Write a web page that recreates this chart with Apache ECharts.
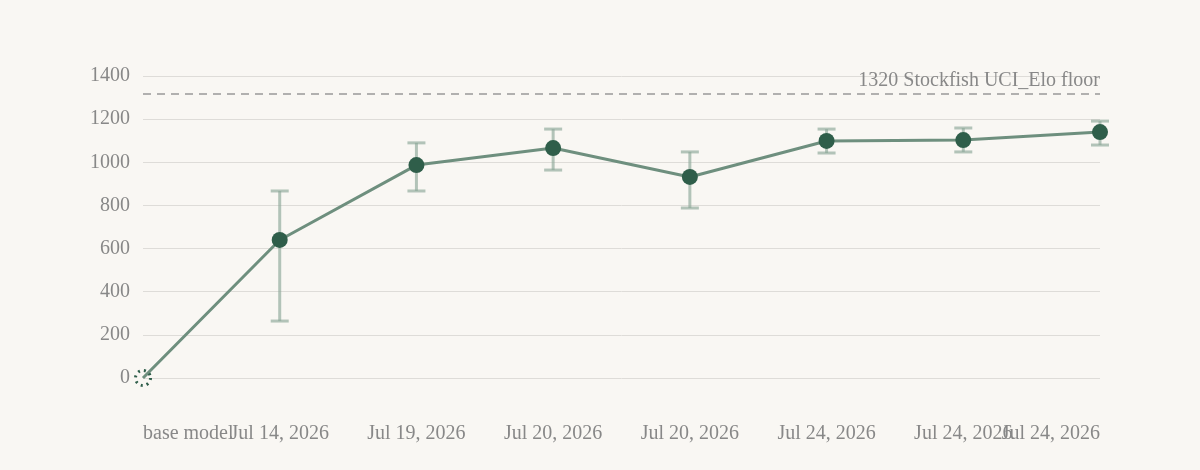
<!DOCTYPE html>
<html><head><meta charset="utf-8">
<script src="https://cdn.jsdelivr.net/npm/echarts@6/dist/echarts.min.js"></script>
<style>html,body{margin:0;padding:0;background:#f9f7f3;}#c{width:1200px;height:470px;}</style>
</head><body><div id="c"></div>
<script>
const categories = ['base model','Jul 14, 2026','Jul 19, 2026','Jul 20, 2026','Jul 20, 2026','Jul 24, 2026','Jul 24, 2026','Jul 24, 2026'];
const elo = [0, 640, 987, 1066, 932, 1099, 1103, 1140];
const errLow = [null, 264, 867, 964, 788, 1043, 1048, 1080];
const errHigh = [null, 867, 1090, 1154, 1048, 1154, 1159, 1191];
const floorValue = 1320;
const floorLabel = '1320 Stockfish UCI_Elo floor';

const FONT = '"Liberation Serif", serif';
const chart = echarts.init(document.getElementById('c'));
const errData = categories.map((c,i)=> errLow[i]==null ? null : [i, errLow[i], errHigh[i]]).filter(d=>d);
const lineData = elo.map((v,i)=> i===0 ? {value:v, symbol:'circle', symbolSize:15, itemStyle:{color:'rgba(0,0,0,0)', borderColor:'#2f5e4a', borderWidth:3, borderType:[2,4]}} : v);

chart.setOption({
  backgroundColor:'#f9f7f3',
  animation:false,
  grid:{left:143,right:100,top:76,bottom:92},
  xAxis:{type:'category',data:categories,boundaryGap:false,
    axisLine:{show:false},axisTick:{show:false},
    axisLabel:{color:'#888',fontFamily:FONT,fontSize:20,margin:46,interval:0,alignMinLabel:'left',alignMaxLabel:'right'}},
  yAxis:{type:'value',min:0,max:1400,interval:200,
    axisLine:{show:false},axisTick:{show:false},
    axisLabel:{color:'#888',fontFamily:FONT,fontSize:20,margin:13,formatter:v=>String(v),padding:[4,0,0,0]},
    splitLine:{lineStyle:{color:'#dedcd8',width:1}}},
  series:[
    {type:'custom',z:1,data:errData,
      renderItem:function(params,api){
        const x=api.value(0);
        const lo=api.coord([x,api.value(1)]);
        const hi=api.coord([x,api.value(2)]);
        const w=9;
        const style={stroke:'rgba(140,168,152,0.65)',lineWidth:3,fill:null};
        return {type:'group',children:[
          {type:'line',shape:{x1:hi[0],y1:hi[1],x2:lo[0],y2:lo[1]},style:style},
          {type:'line',shape:{x1:hi[0]-w,y1:hi[1],x2:hi[0]+w,y2:hi[1]},style:style},
          {type:'line',shape:{x1:lo[0]-w,y1:lo[1],x2:lo[0]+w,y2:lo[1]},style:style}
        ]};
      }},
    {type:'line',z:3,data:lineData,symbol:'circle',symbolSize:16,showAllSymbol:true,
      lineStyle:{color:'#6e8f7e',width:3},
      itemStyle:{color:'#2f5e4a'},
      markLine:{silent:true,symbol:'none',
        lineStyle:{color:'#999',type:[8,6],width:1.5},
        label:{position:'insideEndTop',formatter:floorLabel,color:'#888',fontFamily:FONT,fontSize:20,distance:[0,3]},
        data:[{yAxis:floorValue}]}}
  ]
});
</script></body></html>
